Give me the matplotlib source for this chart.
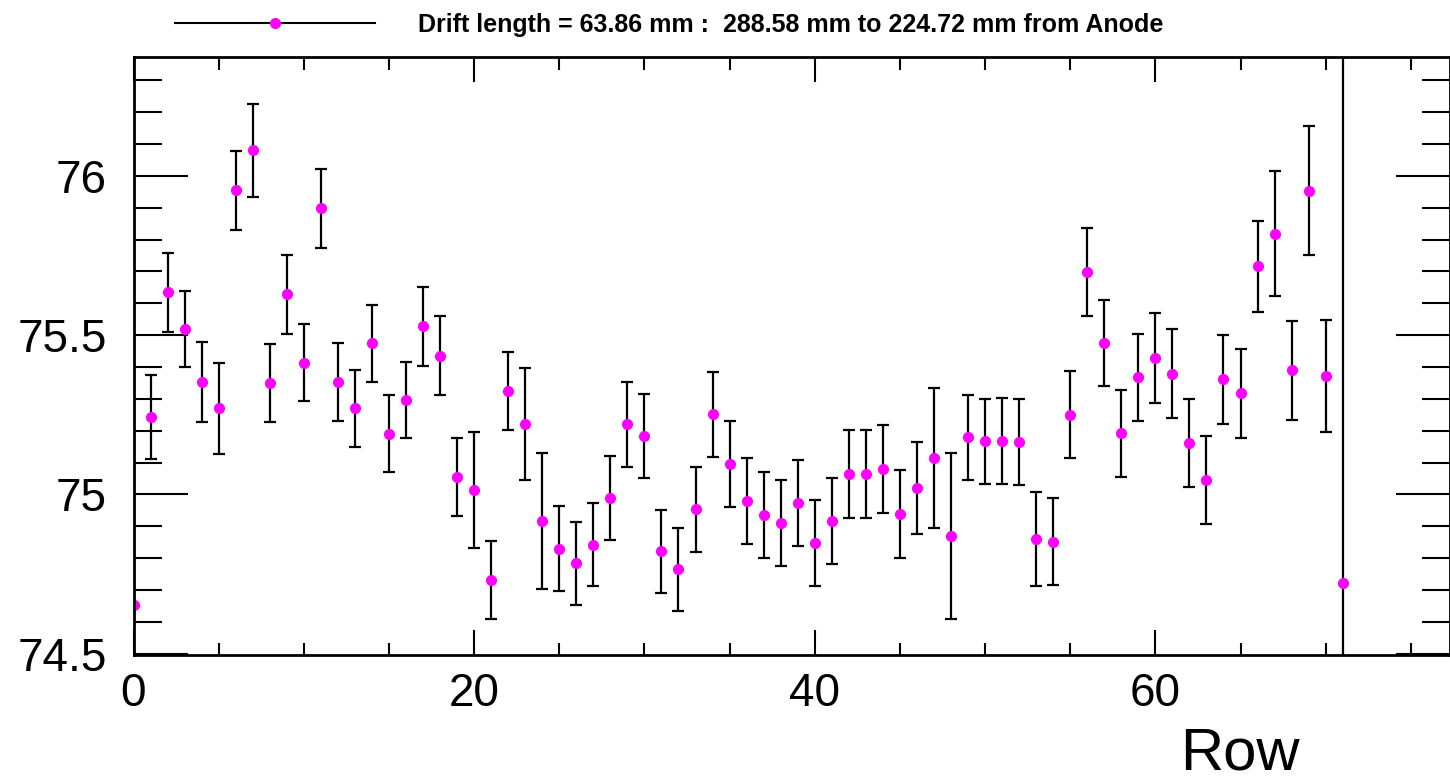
import matplotlib
matplotlib.use("Agg")
import matplotlib.pyplot as plt
from matplotlib.lines import Line2D
from matplotlib.ticker import MultipleLocator

plt.rcParams['font.family'] = ['Liberation Sans', 'DejaVu Sans']

# --- datos ---
rows = list(range(72))
values = [74.653, 75.243, 75.634, 75.520, 75.352, 75.270, 75.954, 76.080, 75.350, 75.628,
          75.413, 75.898, 75.352, 75.270, 75.475, 75.190, 75.296, 75.528, 75.436, 75.055,
          75.013, 74.731, 75.325, 75.220, 74.917, 74.830, 74.784, 74.842, 74.988, 75.220,
          75.183, 74.821, 74.765, 74.953, 75.251, 75.096, 74.978, 74.935, 74.910, 74.973,
          74.848, 74.917, 75.063, 75.065, 75.080, 74.938, 75.021, 75.114, 74.869, 75.179,
          75.167, 75.167, 75.164, 74.861, 74.852, 75.250, 75.698, 75.476, 75.192, 75.367,
          75.428, 75.379, 75.162, 75.045, 75.361, 75.318, 75.716, 75.818, 75.389, 75.953,
          75.371, 74.722]
errors = [0.0, 0.132, 0.125, 0.120, 0.126, 0.143, 0.124, 0.146, 0.123, 0.124,
          0.121, 0.123, 0.122, 0.121, 0.121, 0.121, 0.120, 0.124, 0.124, 0.122,
          0.182, 0.123, 0.122, 0.176, 0.213, 0.134, 0.130, 0.130, 0.132, 0.133,
          0.133, 0.131, 0.131, 0.133, 0.134, 0.135, 0.135, 0.134, 0.134, 0.136,
          0.136, 0.136, 0.138, 0.138, 0.138, 0.139, 0.144, 0.220, 0.260, 0.134,
          0.134, 0.135, 0.135, 0.148, 0.136, 0.136, 0.137, 0.135, 0.136, 0.138,
          0.140, 0.139, 0.138, 0.138, 0.140, 0.140, 0.143, 0.196, 0.156, 0.202,
          0.176, 5.0]

legend_label = "Drift length = 63.86 mm :  288.58 mm to 224.72 mm from Anode"

fig = plt.figure(figsize=(14.5, 7.83), dpi=100)
ax = fig.add_axes([133.5 / 1450, 1 - 655 / 783, (1450 - 133.5) / 1450, (655 - 57.3) / 783])

ax.errorbar(rows, values, yerr=errors, fmt='o', color='magenta', ms=7,
            mec='magenta', ecolor='black', elinewidth=1.6, capsize=4.3, capthick=1.6)

ax.set_xlim(0, 77.3)
ax.set_ylim(74.496, 76.372)

ax.xaxis.set_major_locator(MultipleLocator(20))
ax.xaxis.set_minor_locator(MultipleLocator(5))
ax.yaxis.set_major_locator(MultipleLocator(0.5))
ax.yaxis.set_minor_locator(MultipleLocator(0.1))
ax.yaxis.set_major_formatter(plt.FuncFormatter(lambda v, p: f"{v:g}"))

ax.tick_params(axis='both', which='both', direction='in', top=True, right=True, width=1.5)
ax.tick_params(axis='x', which='major', length=18, labelsize=33, pad=12)
ax.tick_params(axis='x', which='minor', length=9)
ax.tick_params(axis='y', which='major', length=39, labelsize=33, pad=19)
ax.tick_params(axis='y', which='minor', length=20)

for s in ax.spines.values():
    s.set_linewidth(2)

fig.text(1300 / 1450, 1 / 783, "Row", fontsize=43, ha='right', va='bottom')

# leyenda estilo ROOT
h = Line2D([0], [0], color='black', lw=1.5, marker='o', ms=7,
           mfc='magenta', mec='magenta')
fig.legend(handles=[h], labels=[legend_label], loc='center left',
           bbox_to_anchor=(175 / 1450, 1 - 25 / 783), frameon=False,
           borderpad=0, borderaxespad=0, handlelength=8.0, handletextpad=1.7,
           prop={'size': 18, 'weight': 'bold'})

plt.savefig("out.png", dpi=100)
plt.close()
